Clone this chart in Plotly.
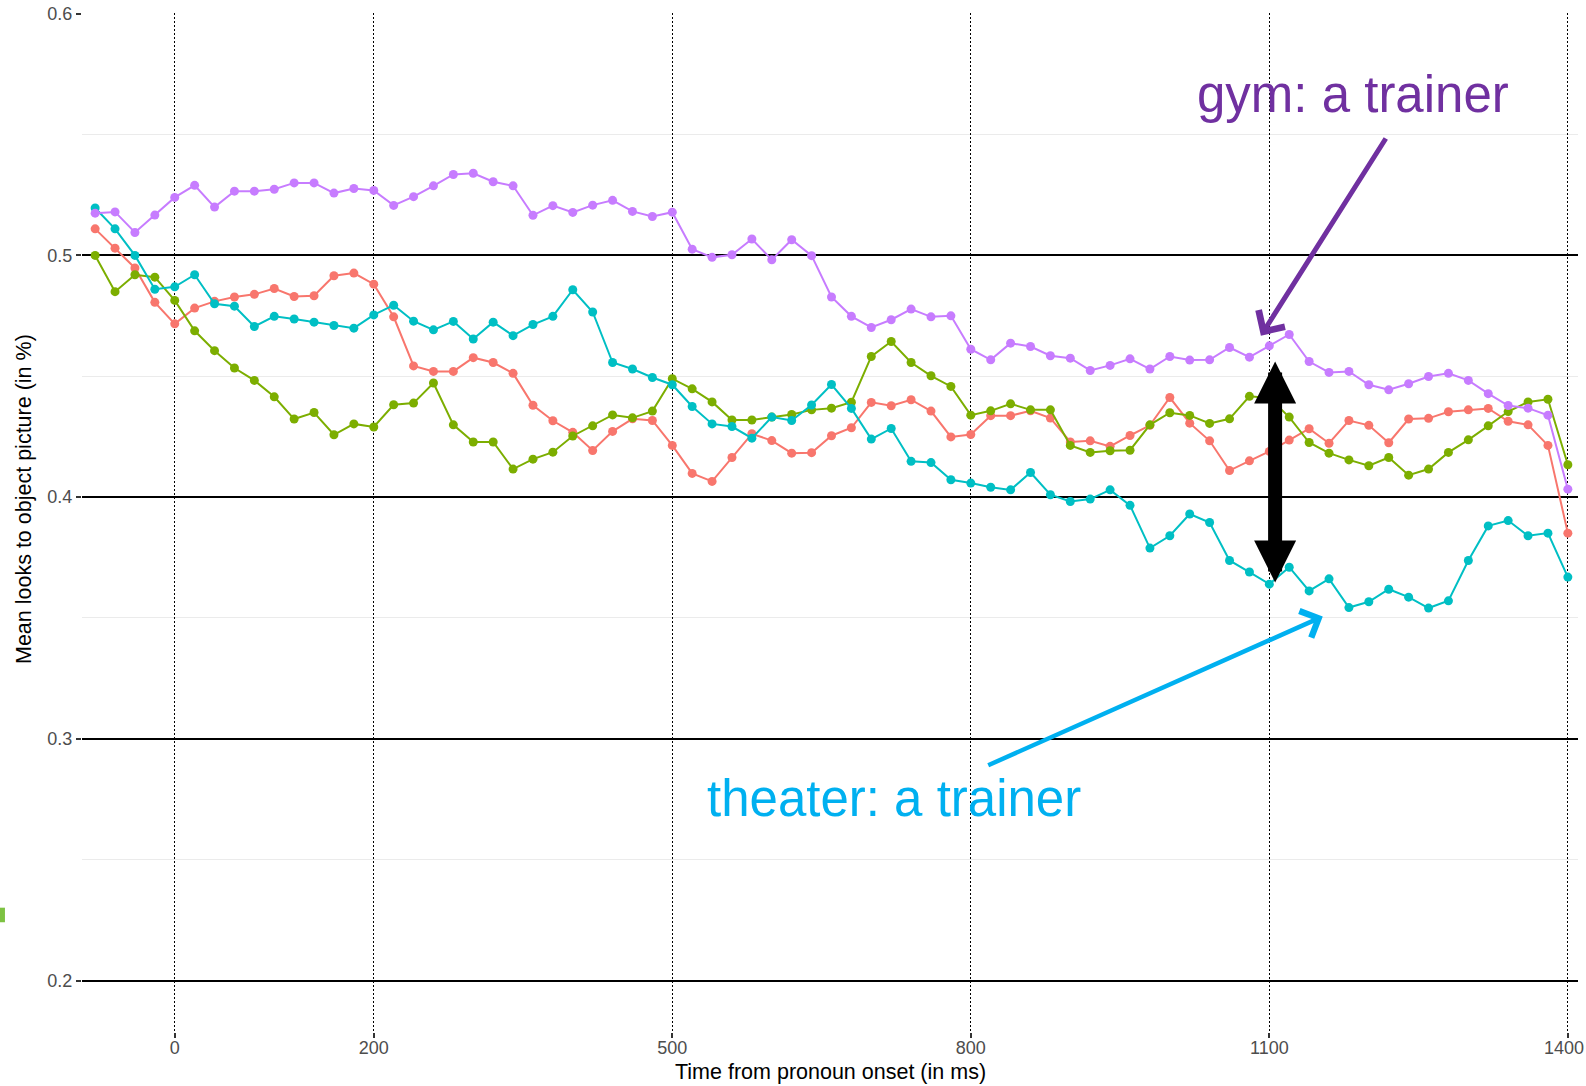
import plotly.graph_objects as go

# Time bins (ms from pronoun onset)
time_ms = [-80, -60, -40, -20, 0, 20, 40, 60, 80, 100, 120, 140, 160, 180, 200,
           220, 240, 260, 280, 300, 320, 340, 360, 380, 400, 420, 440, 460, 480,
           500, 520, 540, 560, 580, 600, 620, 640, 660, 680, 700, 720, 740, 760,
           780, 800, 820, 840, 860, 880, 900, 920, 940, 960, 980, 1000, 1020,
           1040, 1060, 1080, 1100, 1120, 1140, 1160, 1180, 1200, 1220, 1240,
           1260, 1280, 1300, 1320, 1340, 1360, 1380, 1400]

# Mean looks to the object picture, one list per condition
cond_red = [0.511, 0.503, 0.4948, 0.4806, 0.4717, 0.4782, 0.481, 0.4828, 0.4839,
            0.4863, 0.483, 0.4833, 0.4916, 0.4927, 0.4881, 0.4746, 0.4543, 0.452,
            0.452, 0.4577, 0.4557, 0.4512, 0.438, 0.4316, 0.4268, 0.4193, 0.4272,
            0.4324, 0.4317, 0.4214, 0.4098, 0.4065, 0.4164, 0.4262, 0.4234,
            0.4182, 0.4184, 0.4254, 0.4287, 0.4392, 0.4378, 0.4403, 0.4356,
            0.4249, 0.4259, 0.4337, 0.4337, 0.4357, 0.4327, 0.4228, 0.4233,
            0.421, 0.4255, 0.4297, 0.4412, 0.4306, 0.4233, 0.411, 0.415, 0.4189,
            0.4236, 0.4283, 0.4223, 0.4317, 0.4297, 0.4225, 0.4323, 0.4326,
            0.4353, 0.4361, 0.4367, 0.4314, 0.4299, 0.4214, 0.3851]

cond_green = [0.500, 0.485, 0.492, 0.491, 0.4814, 0.4688, 0.4606, 0.4534, 0.4483,
              0.4415, 0.4323, 0.435, 0.4258, 0.4303, 0.429, 0.4382, 0.4389,
              0.4472, 0.4299, 0.4228, 0.4228, 0.4116, 0.4157, 0.4186, 0.4253,
              0.4295, 0.434, 0.4328, 0.4356, 0.449, 0.4448, 0.4394, 0.4319,
              0.4319, 0.4331, 0.4342, 0.4361, 0.4368, 0.4393, 0.4582, 0.4644,
              0.4557, 0.4502, 0.4458, 0.4339, 0.4357, 0.4386, 0.4361, 0.4361,
              0.4214, 0.4185, 0.4192, 0.4194, 0.4299, 0.4349, 0.4338, 0.4305,
              0.4324, 0.4417, 0.441, 0.4331, 0.4226, 0.4182, 0.4154, 0.413,
              0.4164, 0.4091, 0.4116, 0.4185, 0.4237, 0.4295, 0.4354, 0.4394,
              0.4405, 0.4134]

cond_cyan = [0.5196, 0.511, 0.500, 0.486, 0.487, 0.492, 0.480, 0.479, 0.4706,
             0.4748, 0.4737, 0.4724, 0.471, 0.4699, 0.4754, 0.4794, 0.4728,
             0.4692, 0.4727, 0.4654, 0.4724, 0.4668, 0.4714, 0.4748, 0.4858,
             0.4766, 0.4557, 0.453, 0.4495, 0.4465, 0.4375, 0.4303, 0.4292,
             0.4244, 0.4331, 0.4317, 0.4381, 0.4466, 0.4367, 0.424, 0.4284,
             0.4148, 0.4143, 0.4072, 0.4058, 0.4041, 0.403, 0.4102, 0.401,
             0.3982, 0.3992, 0.403, 0.3966, 0.3789, 0.384, 0.393, 0.3895, 0.3738,
             0.369, 0.364, 0.371, 0.3612, 0.3662, 0.3543, 0.3567, 0.3619, 0.3586,
             0.3541, 0.3571, 0.3738, 0.3881, 0.3903, 0.384, 0.3851, 0.3669]

cond_purple = [0.5175, 0.518, 0.5095, 0.5167, 0.524, 0.529, 0.520, 0.5266, 0.5266,
               0.5274, 0.530, 0.530, 0.5258, 0.5277, 0.5269, 0.5207, 0.5243,
               0.5288, 0.5335, 0.534, 0.5305, 0.5288, 0.5166, 0.5206, 0.5178,
               0.5208, 0.5228, 0.5182, 0.5161, 0.5179, 0.5026, 0.4992, 0.5003,
               0.5068, 0.4982, 0.5065, 0.4999, 0.4828, 0.4748, 0.4702, 0.4734,
               0.4778, 0.4746, 0.475, 0.4612, 0.4568, 0.4637, 0.4623, 0.4585,
               0.4575, 0.4524, 0.4545, 0.4572, 0.453, 0.4582, 0.4567, 0.4568,
               0.4619, 0.4579, 0.4626, 0.4673, 0.4561, 0.4516, 0.452, 0.4465,
               0.4444, 0.4469, 0.4499, 0.4512, 0.4483, 0.4428, 0.4379, 0.4368,
               0.4339, 0.4033]

series_names = ["Condition 1", "Condition 2", "theater: a trainer", "gym: a trainer"]
series_values = [cond_red, cond_green, cond_cyan, cond_purple]
series_colors = ["#F8766D", "#7CAE00", "#00BFC4", "#C77CFF"]

x_ticks = [0, 200, 500, 800, 1100, 1400]
x_ticklabels = ["0", "200", "500", "800", "1100", "1400"]
y_ticks = [0.2, 0.3, 0.4, 0.5, 0.6]
y_ticklabels = ["0.2", "0.3", "0.4", "0.5", "0.6"]

FONT = "Liberation Sans, Arial, Helvetica, sans-serif"
PURPLE = "#7030A0"
BLUE = "#00B0F0"
TICK_FONT = dict(family=FONT, size=18, color="#4D4D4D")

fig = go.Figure()
for name, vals, col in zip(series_names, series_values, series_colors):
    fig.add_trace(go.Scatter(
        x=time_ms, y=vals, name=name, mode="lines+markers",
        line=dict(color=col, width=2),
        marker=dict(color=col, size=9),
        showlegend=False,
    ))

annotations = [
    # callout labels
    dict(text="gym: a trainer", x=1184, y=0.5664, xref="x", yref="y",
         xanchor="center", yanchor="middle", showarrow=False,
         font=dict(family=FONT, size=51, color=PURPLE)),
    dict(text="theater: a trainer", x=723, y=0.2754, xref="x", yref="y",
         xanchor="center", yanchor="middle", showarrow=False,
         font=dict(family=FONT, size=51, color=BLUE)),
    # callout arrows
    dict(text="", x=1091.5, y=0.4668, ax=1218, ay=0.549, xref="x", yref="y",
         axref="x", ayref="y", showarrow=True, arrowhead=4, arrowsize=1.2,
         arrowwidth=5, arrowcolor=PURPLE),
    dict(text="", x=1153.7, y=0.3506, ax=816, ay=0.2888, xref="x", yref="y",
         axref="x", ayref="y", showarrow=True, arrowhead=4, arrowsize=1.25,
         arrowwidth=4.5, arrowcolor=BLUE),
    # difference marker between the two highlighted conditions
    dict(text="", x=1105.8, y=0.4561, ax=1105.8, ay=0.3641, xref="x", yref="y",
         axref="x", ayref="y", showarrow=True, arrowside="end+start",
         arrowhead=2, startarrowhead=2, arrowsize=0.6, startarrowsize=0.6,
         arrowwidth=14, arrowcolor="black"),
    # last x tick label, right-aligned so it stays inside the page
    dict(text=x_ticklabels[-1], x=x_ticks[-1], y=-0.0157, xref="x",
         yref="paper", xanchor="right", yanchor="middle", xshift=18,
         showarrow=False, font=TICK_FONT),
    # axis titles
    dict(text="Mean looks to object picture (in %)", x=-0.0388, y=0.523,
         xref="paper", yref="paper", xanchor="center", yanchor="middle",
         textangle=-90, showarrow=False,
         font=dict(family=FONT, size=21.5, color="black")),
    dict(text="Time from pronoun onset (in ms)", x=0.5, y=-0.0393,
         xref="paper", yref="paper", xanchor="center", yanchor="middle",
         showarrow=False,
         font=dict(family=FONT, size=21.5, color="black")),
]

fig.update_layout(
    width=1586, height=1086,
    margin=dict(l=82, r=8, t=13, b=54),
    paper_bgcolor="white", plot_bgcolor="white",
    font=dict(family=FONT),
    annotations=annotations,
    shapes=[dict(type="rect", xref="paper", yref="paper",
                 x0=-0.0548, x1=-0.0515, y0=0.1077, y1=0.122,
                 fillcolor="#7DC242", line=dict(width=0))],
)

fig.update_xaxes(
    range=[-93.2, 1410.2], tickmode="array", tickvals=x_ticks,
    ticktext=x_ticklabels[:-1] + [""],
    automargin=False, ticklabeloverflow="allow", ticklabelstandoff=-6,
    showgrid=True, gridcolor="black", gridwidth=1, griddash="2px,2px",
    zeroline=False, showline=False,
    ticks="outside", ticklen=5, tickwidth=2, tickcolor="#333333",
    tickfont=TICK_FONT,
)
fig.update_yaxes(
    range=[0.1787, 0.6003], tickmode="array", tickvals=y_ticks,
    ticktext=y_ticklabels, automargin=False, ticklabeloverflow="allow",
    showgrid=True, gridcolor="black", gridwidth=2,
    minor=dict(tick0=0.25, dtick=0.1, showgrid=True, gridcolor="#EBEBEB",
               gridwidth=1),
    zeroline=False, showline=False,
    ticks="outside", ticklen=5, tickwidth=2, tickcolor="#333333",
    tickfont=TICK_FONT,
)

fig.write_html("out.html")
